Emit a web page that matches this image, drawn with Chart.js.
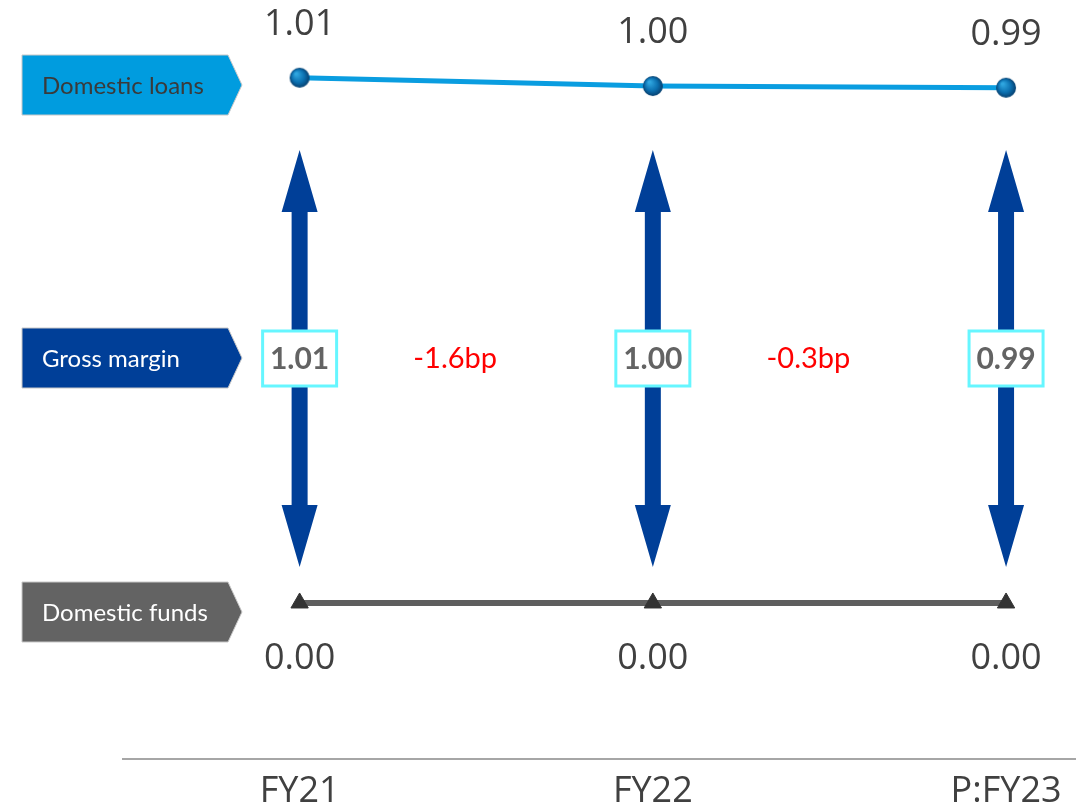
<!DOCTYPE html>
<html>
<head>
<meta charset="utf-8">
<script src="https://cdn.jsdelivr.net/npm/chart.js@4"></script>
<style>
  html, body { margin: 0; padding: 0; background: #ffffff; overflow: hidden; }
  #wrap { width: 1076px; height: 809px; position: relative; }
</style>
</head>
<body>
<div id="wrap"><canvas id="c"></canvas></div>
<script>
// Fiscal years on the horizontal axis
const categories = ['FY21', 'FY22', 'P:FY23'];
// Yield on domestic loans (%)
const domesticLoans = [1.014, 0.998, 0.9948];
// Cost of domestic funds (%)
const domesticFunds = [0.000, 0.000, 0.000];
// Row captions shown on the left
const rowLabels = ['Domestic loans', 'Gross margin', 'Domestic funds'];

// Gross margin = loans yield - funding cost
const grossMargin = domesticLoans.map((v, i) => v - domesticFunds[i]);
// Change in gross margin between consecutive years, in basis points
const marginChangeBp = grossMargin.slice(1).map((v, i) => (v - grossMargin[i]) * 100);

const COLORS = {
  loans: '#009CDF',
  loansLine: '#0A9DE0',
  margin: '#003F98',
  funds: '#636363',
  fundsLine: '#5E5E5E',
  box: '#66F6FF',
  text: '#404040',
  boxText: '#636363',
  red: '#FF0000'
};

// Shaded sphere used as the loans point marker
function makeSphere(r) {
  const c = document.createElement('canvas');
  c.width = c.height = r * 2 + 2;
  const g = c.getContext('2d');
  const cx = r + 1, cy = r + 1;
  const grad = g.createRadialGradient(cx - r * 0.35, cy - r * 0.4, r * 0.1, cx, cy, r);
  grad.addColorStop(0, '#2FA6E0');
  grad.addColorStop(0.6, '#0B6FAF');
  grad.addColorStop(1, '#07406F');
  g.fillStyle = grad;
  g.beginPath();
  g.arc(cx, cy, r, 0, Math.PI * 2);
  g.fill();
  return c;
}
const sphere = makeSphere(10);

function chevron(ctx, x0, y0, x1, y1, tipW, fill, label, color) {
  const ym = (y0 + y1) / 2;
  ctx.save();
  ctx.beginPath();
  ctx.moveTo(x0, y0);
  ctx.lineTo(x1 - tipW, y0);
  ctx.lineTo(x1, ym);
  ctx.lineTo(x1 - tipW, y1);
  ctx.lineTo(x0, y1);
  ctx.closePath();
  ctx.fillStyle = fill;
  ctx.fill();
  ctx.strokeStyle = '#C8C8C8';
  ctx.lineWidth = 1;
  ctx.stroke();
  ctx.fillStyle = color;
  ctx.font = '24px Lato';
  ctx.textAlign = 'left';
  ctx.textBaseline = 'middle';
  ctx.fillText(label, x0 + 20, ym + 1);
  ctx.restore();
}

function doubleArrow(ctx, x, yTop, yBot, color) {
  const shaft = 8, head = 18, headLen = 62;
  ctx.save();
  ctx.fillStyle = color;
  ctx.beginPath();
  ctx.moveTo(x, yTop);
  ctx.lineTo(x + head, yTop + headLen);
  ctx.lineTo(x + shaft, yTop + headLen);
  ctx.lineTo(x + shaft, yBot - headLen);
  ctx.lineTo(x + head, yBot - headLen);
  ctx.lineTo(x, yBot);
  ctx.lineTo(x - head, yBot - headLen);
  ctx.lineTo(x - shaft, yBot - headLen);
  ctx.lineTo(x - shaft, yTop + headLen);
  ctx.lineTo(x - head, yTop + headLen);
  ctx.closePath();
  ctx.fill();
  ctx.restore();
}

const marginPlugin = {
  id: 'marginDecor',
  beforeDatasetsDraw(chart) {
    const ctx = chart.ctx;
    const xs = chart.scales.x;
    // row captions
    chevron(ctx, 22, 55, 242, 115, 14, COLORS.loans, rowLabels[0], '#3A3A3A');
    chevron(ctx, 22, 328, 242, 388, 14, COLORS.margin, rowLabels[1], '#FFFFFF');
    chevron(ctx, 22, 582, 242, 642, 14, COLORS.funds, rowLabels[2], '#FFFFFF');
    // margin arrows spanning loans to funds
    categories.forEach((_, i) => {
      const x = xs.getPixelForValue(i);
      doubleArrow(ctx, x, 150, 567, COLORS.margin);
    });
  },
  afterDatasetsDraw(chart) {
    const ctx = chart.ctx;
    const xs = chart.scales.x;
    const ys = chart.scales.y;
    const yMid = 358;
    ctx.save();
    categories.forEach((_, i) => {
      const x = xs.getPixelForValue(i);
      // gross margin value box
      ctx.fillStyle = '#FFFFFF';
      ctx.fillRect(x - 37, yMid - 27, 74, 55);
      ctx.strokeStyle = COLORS.box;
      ctx.lineWidth = 3;
      ctx.strokeRect(x - 37, yMid - 27, 74, 55);
      ctx.fillStyle = COLORS.boxText;
      ctx.font = 'bold 30px Lato';
      ctx.textAlign = 'center';
      ctx.textBaseline = 'middle';
      ctx.fillText(grossMargin[i].toFixed(2), x, yMid + 1);
      // value labels for loans and funds
      ctx.fillStyle = COLORS.text;
      ctx.font = '36px "Open Sans"';
      ctx.fillText(domesticLoans[i].toFixed(2), x, ys.getPixelForValue(domesticLoans[i]) - 53);
      ctx.fillText(domesticFunds[i].toFixed(2), x, ys.getPixelForValue(domesticFunds[i]) + 56);
    });
    // year-on-year change in basis points
    ctx.fillStyle = COLORS.red;
    ctx.font = '29px Lato';
    marginChangeBp.forEach((bp, i) => {
      const xm = (xs.getPixelForValue(i) + xs.getPixelForValue(i + 1)) / 2 - 21;
      ctx.fillText(bp.toFixed(1) + 'bp', xm, yMid + 1);
    });
    ctx.restore();
  }
};

new Chart(document.getElementById('c'), {
  type: 'line',
  data: {
    datasets: [
      {
        label: rowLabels[0],
        data: categories.map((_, i) => ({ x: i, y: domesticLoans[i] })),
        borderColor: COLORS.loansLine,
        borderWidth: 5,
        pointStyle: sphere,
        pointRadius: 10,
        tension: 0
      },
      {
        label: rowLabels[2],
        data: categories.map((_, i) => ({ x: i, y: domesticFunds[i] })),
        borderColor: COLORS.fundsLine,
        borderWidth: 6,
        pointStyle: 'triangle',
        pointRadius: 10,
        pointBackgroundColor: '#333333',
        pointBorderColor: '#333333',
        pointBorderWidth: 1,
        tension: 0
      }
    ]
  },
  options: {
    responsive: true,
    maintainAspectRatio: false,
    animation: false,
    layout: { autoPadding: false, padding: { left: 123, right: 0, top: 0, bottom: 0 } },
    plugins: { legend: { display: false }, tooltip: { enabled: false } },
    scales: {
      x: {
        type: 'linear',
        min: -0.5,
        max: 2.198,
        grid: { display: true, drawOnChartArea: false, drawTicks: false },
        border: { display: true, color: '#A6A6A6', width: 2 },
        afterBuildTicks: (scale) => { scale.ticks = categories.map((_, i) => ({ value: i })); },
        afterFit: (scale) => {
          scale.height = 50;
          scale.paddingLeft = 0;
          scale.paddingRight = 0;
        },
        ticks: {
          autoSkip: false,
          maxRotation: 0,
          padding: 15,
          color: COLORS.text,
          font: { family: 'Open Sans', size: 36, lineHeight: 1 },
          callback: (v) => categories[v] ?? ''
        }
      },
      y: { display: false, min: -0.3012, max: 1.1641 }
    }
  },
  plugins: [marginPlugin]
});
</script>
</body>
</html>
